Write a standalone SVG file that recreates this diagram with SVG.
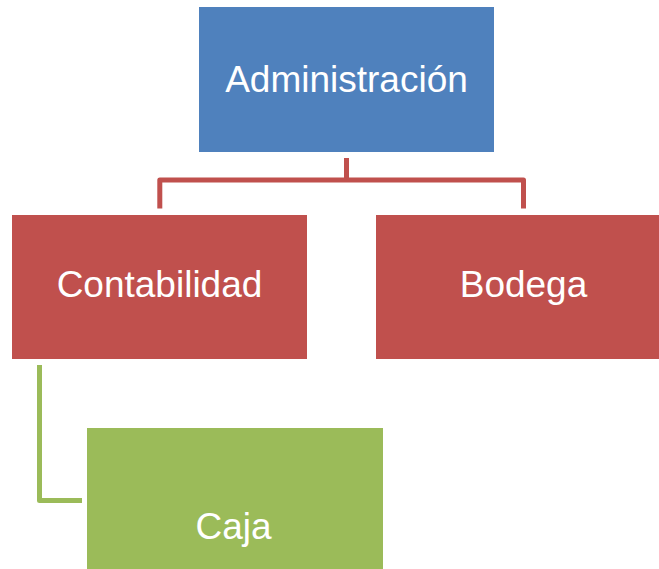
<svg xmlns="http://www.w3.org/2000/svg" width="659" height="569" viewBox="0 0 659 569">
<style>
.lbl{font-family:"Liberation Sans",Arial,sans-serif;font-size:37px;fill:#ffffff;text-anchor:middle}
.c{fill:none;stroke-width:5;stroke-linejoin:round}
</style>
<rect width="659" height="569" fill="#ffffff"/>
<g id="connectors">
<path class="c" stroke="#C0504D" d="M346.5,158 V180 M159.8,208.5 V180 H523.5 V208.5"/>
<path class="c" stroke="#9BBB59" d="M39.5,365 V500.5 H82"/>
</g>
<g id="administracion">
<rect x="199" y="7" width="295" height="145" fill="#4F81BD"/>
<text class="lbl" x="346.5" y="92">Administración</text>
</g>
<g id="contabilidad">
<rect x="12" y="215" width="295" height="144" fill="#C0504D"/>
<text class="lbl" x="159.5" y="297">Contabilidad</text>
</g>
<g id="bodega">
<rect x="376" y="215" width="295" height="144" fill="#C0504D"/>
<text class="lbl" x="523.5" y="297">Bodega</text>
</g>
<g id="caja">
<rect x="87" y="428" width="296" height="145" fill="#9BBB59"/>
<text class="lbl" x="233.5" y="539">Caja</text>
</g>
</svg>
